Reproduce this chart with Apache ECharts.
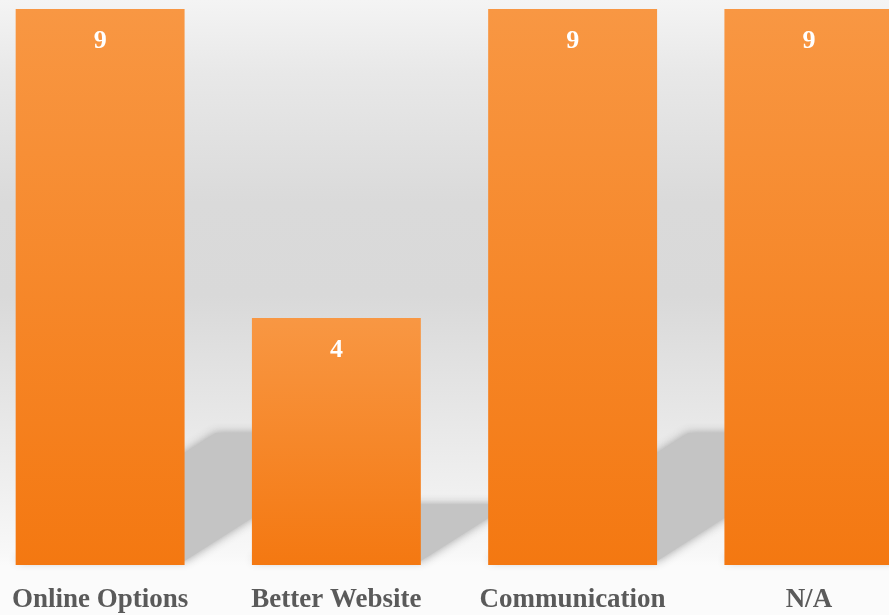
<!DOCTYPE html>
<html>
<head>
<meta charset="utf-8">
<script src="https://cdn.jsdelivr.net/npm/echarts@6/dist/echarts.min.js"></script>
<style>
html,body{margin:0;padding:0;}
#chart{width:889px;height:615px;}
</style>
</head>
<body>
<div id="chart"></div>
<script>
const categories = ['Online Options', 'Better Website', 'Communication', 'N/A'];
const values = [9, 4, 9, 9];

const chart = echarts.init(document.getElementById('chart'));

const shadowData = categories.map((c, i) => [i, values[i]]);

chart.setOption({
  animation: false,
  backgroundColor: {
    type: 'linear', x: 0, y: 0, x2: 0, y2: 1,
    colorStops: [
      {offset: 0, color: '#f4f4f4'},
      {offset: 0.12, color: '#e8e8e8'},
      {offset: 0.33, color: '#dadada'},
      {offset: 0.48, color: '#d9d9d9'},
      {offset: 0.66, color: '#e6e6e6'},
      {offset: 0.8, color: '#f0f0f0'},
      {offset: 0.9, color: '#f8f8f8'},
      {offset: 0.92, color: '#fbfbfb'},
      {offset: 1, color: '#fbfbfb'}
    ]
  },
  grid: {left: -18, right: -38, top: 9, bottom: 50, containLabel: false, outerBoundsMode: 'none'},
  xAxis: {
    type: 'category',
    data: categories,
    axisLine: {show: false},
    axisTick: {show: false},
    axisLabel: {
      interval: 0,
      margin: 22,
      fontFamily: 'Liberation Serif',
      fontWeight: 'bold',
      fontSize: 27,
      color: '#5a5a5a'
    }
  },
  yAxis: {
    type: 'value',
    min: 0,
    max: 9,
    show: false,
    splitLine: {show: false}
  },
  series: [
    {
      type: 'custom',
      z: 1,
      silent: true,
      data: shadowData,
      renderItem: function (params, api) {
        const base = api.coord([api.value(0), 0]);
        const top = api.coord([api.value(0), api.value(1)]);
        const bw = api.size([1, 0])[0] * 0.715;
        const x0 = base[0] - bw / 2, x1 = base[0] + bw / 2;
        const h = base[1] - top[1];
        const sh = 0.23 * h;
        const dx = 0.36 * h;
        const yb = base[1] - 4;
        return {
          type: 'polygon',
          shape: {points: [[x0, yb], [x1, yb], [x1 + dx, yb - sh], [x0 + dx, yb - sh]]},
          style: {fill: '#c4c4c4', shadowBlur: 10, shadowColor: 'rgba(150,150,150,0.9)'}
        };
      }
    },
    {
      type: 'bar',
      z: 2,
      data: values,
      barWidth: '71.5%',
      itemStyle: {
        color: {
          type: 'linear', x: 0, y: 0, x2: 0, y2: 1,
          colorStops: [
            {offset: 0, color: '#f89743'},
            {offset: 1, color: '#f47811'}
          ]
        }
      },
      label: {
        show: true,
        position: 'insideTop',
        distance: 19,
        fontFamily: 'Liberation Serif',
        fontWeight: 'bold',
        fontSize: 26,
        color: '#ffffff'
      }
    }
  ]
});
</script>
</body>
</html>
